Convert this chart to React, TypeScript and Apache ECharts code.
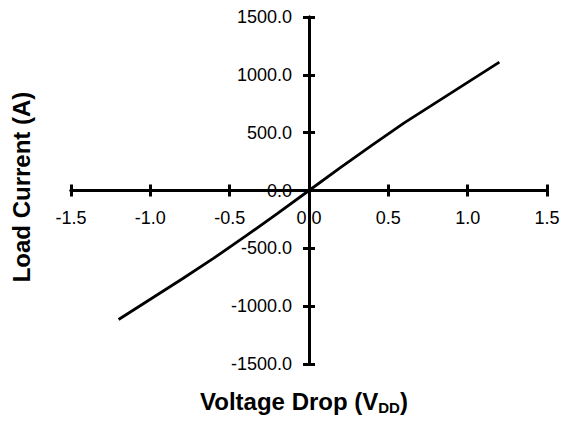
import React, { useEffect, useRef } from "react";
import * as echarts from "echarts";

const voltage = [-1.2, -1.0, -0.8, -0.6, -0.4, -0.2, 0, 0.2, 0.4, 0.6, 0.8, 1.0, 1.2];
const current = [-1115, -940, -765, -585, -395, -200, 0, 200, 395, 585, 760, 935, 1110];
const xRange = { min: -1.5, max: 1.5, interval: 0.5 };
const yRange = { min: -1500, max: 1500, interval: 500 };
const xTitle = "Voltage Drop (V";
const xTitleSub = "DD";
const yTitle = "Load Current (A)";

const FONT = "'Liberation Sans', Arial, sans-serif";
const W = 565;
const H = 422;
const GRID = { left: 71, right: 18, top: 17, bottom: 58 };

export default function App() {
  const ref = useRef<HTMLDivElement>(null);
  useEffect(() => {
    if (!ref.current) return;
    const chart = echarts.init(ref.current, undefined, { renderer: "svg" });
    const lineStyle = { color: "#000", width: 3 };
    const gridW = W - GRID.left - GRID.right;
    const gridH = H - GRID.top - GRID.bottom;
    const xOff = -gridH / 2;
    const yOff = -gridW / 2;
    const baseX = {
      type: "value" as const,
      min: xRange.min,
      max: xRange.max,
      interval: xRange.interval,
      splitLine: { show: false },
      offset: xOff,
      axisLine: { show: true, onZero: false, lineStyle },
    };
    const baseY = {
      type: "value" as const,
      min: yRange.min,
      max: yRange.max,
      interval: yRange.interval,
      splitLine: { show: false },
      offset: yOff,
      axisLine: { show: true, onZero: false, lineStyle },
    };
    chart.setOption({
      animation: false,
      backgroundColor: "#fff",
      grid: { ...GRID, containLabel: false },
      xAxis: [
        {
          ...baseX,
          position: "bottom",
          axisTick: { show: true, length: 6, lineStyle },
          axisLabel: {
            show: true,
            margin: 18,
            color: "#000",
            fontFamily: FONT,
            fontSize: 18,
            formatter: (v: number) => v.toFixed(1),
          },
        },
        {
          ...baseX,
          position: "top",
          axisTick: { show: true, length: 6, lineStyle },
          axisLabel: { show: false },
        },
      ],
      yAxis: [
        {
          ...baseY,
          position: "left",
          axisTick: { show: true, length: 6, lineStyle },
          axisLabel: {
            show: true,
            margin: 17,
            color: "#000",
            fontFamily: FONT,
            fontSize: 18,
            formatter: (v: number) => v.toFixed(1),
          },
        },
        {
          ...baseY,
          position: "right",
          axisTick: { show: true, length: 6, lineStyle },
          axisLabel: { show: false },
        },
      ],
      series: [
        {
          type: "line",
          xAxisIndex: 0,
          yAxisIndex: 0,
          data: voltage.map((v, i) => [v, current[i]]),
          showSymbol: false,
          symbol: "none",
          lineStyle: { color: "#000", width: 2.8 },
          z: 1,
        },
      ],
      graphic: [
        {
          type: "text",
          x: 304,
          y: 401,
          style: {
            text: `{a|${xTitle}}{b|${xTitleSub}}{a|)}`,
            align: "center",
            verticalAlign: "middle",
            fill: "#000",
            rich: {
              a: { fontFamily: FONT, fontWeight: "bold", fontSize: 24, lineHeight: 24, verticalAlign: "top", fill: "#000" },
              b: { fontFamily: FONT, fontWeight: "bold", fontSize: 15, lineHeight: 16, verticalAlign: "top", padding: [11, 0, 0, 0], fill: "#000" },
            },
          },
        },
        {
          type: "text",
          x: 21,
          y: 187,
          rotation: Math.PI / 2,
          style: {
            text: yTitle,
            align: "center",
            verticalAlign: "middle",
            fill: "#000",
            font: `bold 24px ${FONT}`,
          },
        },
      ],
    });
    return () => chart.dispose();
  }, []);
  return <div ref={ref} style={{ position: "absolute", left: 0, top: 0, width: W, height: H }} />;
}
